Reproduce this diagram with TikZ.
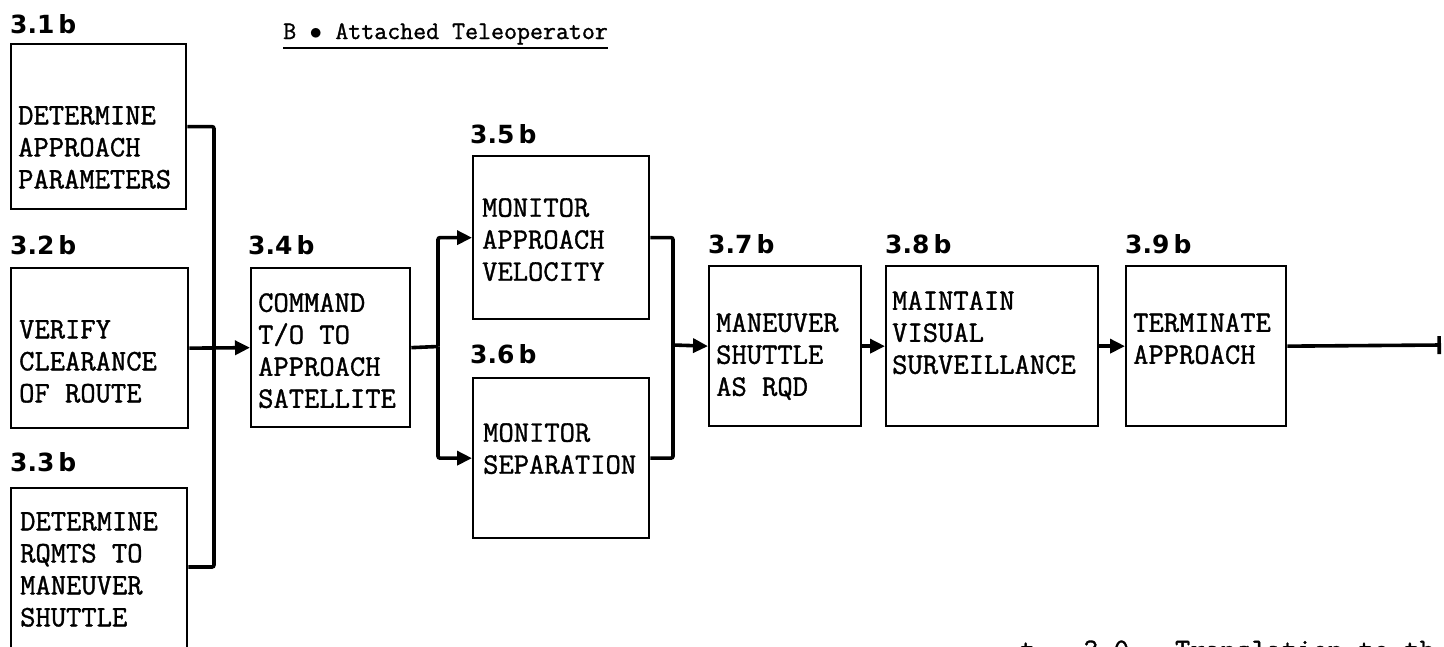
\documentclass[tikz,border=0pt]{standalone}
\usepackage{fontspec}
\newfontfamily\lblfont{DejaVu Sans}
\newfontfamily\twfont{Latin Modern Mono}[FakeBold=1.2]
\usetikzlibrary{arrows.meta}
\tikzset{
  box/.style={draw, line width=2.3pt, inner sep=0pt, anchor=north west},
  txt/.style={anchor=north west, inner sep=0pt, align=left, font=\fontsize{29.7}{32}\selectfont\twfont},
  lbl/.style={anchor=base west, inner sep=0pt, font=\fontsize{25}{26}\selectfont\lblfont\bfseries},
  conn/.style={line width=3.6pt, rounded corners=2pt},
  arr/.style={-{Triangle[length=15pt,width=14pt]}},
}
\begin{document}
\begin{tikzpicture}[x=1pt,y=-1pt]
\useasboundingbox (0,0) rectangle (1444,646);
\clip (0,0) rectangle (1444,646);
% title
\node[anchor=base west, inner sep=0pt, font=\fontsize{25.2}{28}\selectfont\twfont] (title) at (283,39)
  {B \makebox[0.525em]{$\bullet$} Attached Teleoperator};
\draw[line width=1.6pt] ([yshift=-3pt]title.south west) -- ([yshift=-3pt]title.south east);
% boxes
\node[box, minimum width=175pt, minimum height=165pt] (b31) at (10,43) {};
\node[box, minimum width=177pt, minimum height=160pt] (b32) at (10,267) {};
\node[box, minimum width=176pt, minimum height=190pt] (b33) at (10,487) {};
\node[box, minimum width=159pt, minimum height=159pt] (b34) at (250,267) {};
\node[box, minimum width=176pt, minimum height=163pt] (b35) at (472,155) {};
\node[box, minimum width=176pt, minimum height=160pt] (b36) at (472,377) {};
\node[box, minimum width=152pt, minimum height=160pt] (b37) at (708,265) {};
\node[box, minimum width=212pt, minimum height=160pt] (b38) at (885,265) {};
\node[box, minimum width=160pt, minimum height=160pt] (b39) at (1125,265) {};
% labels
\node[lbl] (l31) at (10,33) {3.1\kern4pt b};
\node[lbl] (l32) at (10,254) {3.2\kern4pt b};
\node[lbl] (l33) at (10,471) {3.3\kern4pt b};
\node[lbl] (l34) at (248,254) {3.4\kern4pt b};
\node[lbl] (l35) at (470,143) {3.5\kern4pt b};
\node[lbl] (l36) at (470,363) {3.6\kern4pt b};
\node[lbl] (l37) at (708,253) {3.7\kern4pt b};
\node[lbl] (l38) at (885,253) {3.8\kern4pt b};
\node[lbl] (l39) at (1125,253) {3.9\kern4pt b};
% texts
\node[txt] (t31) at (18,106) {DETERMINE\\APPROACH\\PARAMETERS};
\node[txt] (t32) at (19,320) {VERIFY\\CLEARANCE\\OF ROUTE};
\node[txt] (t33) at (20,512) {DETERMINE\\RQMTS TO\\MANEUVER\\SHUTTLE};
\node[txt] (t34) at (258,293) {COMMAND\\T/O TO\\APPROACH\\SATELLITE};
\node[txt] (t35) at (482,198) {MONITOR\\APPROACH\\VELOCITY};
\node[txt] (t36) at (483,423) {MONITOR\\SEPARATION};
\node[txt] (t37) at (716,313) {MANEUVER\\SHUTTLE\\AS RQD};
\node[txt] (t38) at (892,291) {MAINTAIN\\VISUAL\\SURVEILLANCE};
\node[txt] (t39) at (1133,313) {TERMINATE\\APPROACH};
% bottom clipped text
\node[anchor=base west, inner sep=0pt, font=\fontsize{29.7}{32}\selectfont\twfont] (bt1) at (1020,659) {t};
\node[anchor=base west, inner sep=0pt, font=\fontsize{29.7}{32}\selectfont\twfont] (bt2) at (1083,659) {3.0 - Translation to th};
% connectors
\coordinate (busBot) at (214,567);
\draw[conn] (b31.east) -| (busBot) -- (b33.east |- busBot);
\draw[conn,arr] (b32.east) -- (b34.west);
\coordinate (sp) at (438,346.5);
\draw[conn] (b34.east) -- (sp);
\draw[conn,arr] (sp) |- (b35.west);
\draw[conn,arr] (sp) |- (b36.west);
\coordinate (mg) at (673,345);
\draw[conn] (b35.east) -| (mg);
\draw[conn] (b36.east) -| (mg);
\draw[conn,arr] (mg) -- (b37.west);
\draw[conn,arr] (b37.east) -- (b38.west);
\draw[conn,arr] (b38.east) -- (b39.west);
\coordinate (endc) at (1441,345);
\draw[conn,-{Bar[width=18pt]}] (b39.east) -- (endc);
\end{tikzpicture}
\end{document}
